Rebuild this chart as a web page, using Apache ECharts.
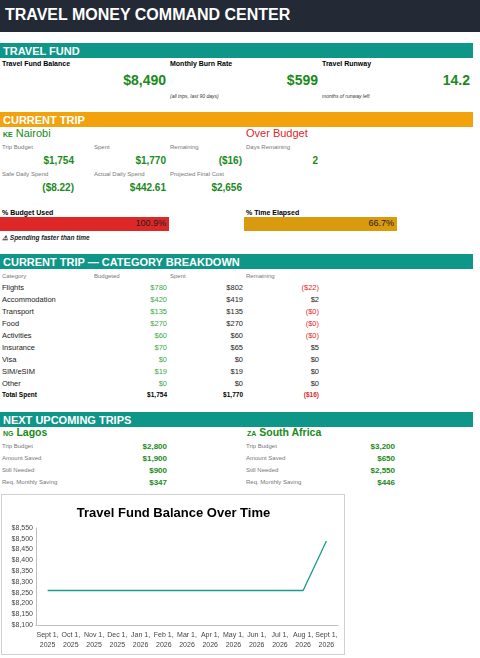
<!DOCTYPE html>
<html><head><meta charset="utf-8">
<script src="https://cdn.jsdelivr.net/npm/echarts@6/dist/echarts.min.js"></script>
<style>
body{margin:0;width:480px;height:658px;background:#fff;font-family:"Liberation Sans",Arial,sans-serif;position:relative;overflow:hidden}
.a{position:absolute;white-space:nowrap}
.bar{position:absolute;left:0;width:473px;height:15px;color:#fff;font-weight:bold;font-size:11px;line-height:16px;padding-left:3px;box-sizing:border-box}
.t{background:#0e9688}.lbl{font-size:6px;color:#777}.blbl{font-size:7px;font-weight:bold;color:#000}
.g{color:#1a8a1a;font-weight:bold}.r{text-align:right}
.cell{font-size:7.5px;color:#222}
</style></head><body>
<div class="a" style="left:0;top:0;width:480px;height:32px;background:#232a35"></div>
<div class="a" style="left:5px;top:6px;color:#fff;font-weight:bold;font-size:16px">TRAVEL MONEY COMMAND CENTER</div>

<div class="bar t" style="top:43px">TRAVEL FUND</div>
<div class="a blbl" style="left:2px;top:60px">Travel Fund Balance</div>
<div class="a blbl" style="left:170px;top:60px">Monthly Burn Rate</div>
<div class="a blbl" style="left:322px;top:60px">Travel Runway</div>
<div class="a g r" style="left:60px;width:106px;top:72px;font-size:14px">$8,490</div>
<div class="a g r" style="left:212px;width:106px;top:72px;font-size:14px">$599</div>
<div class="a g r" style="left:364px;width:106px;top:72px;font-size:14px">14.2</div>
<div class="a" style="left:170px;top:93px;font-size:5px;font-style:italic;color:#333">(all trips, last 90 days)</div>
<div class="a" style="left:322px;top:93px;font-size:5px;font-style:italic;color:#333">months of runway left</div>

<div class="bar" style="top:112px;background:#f2a20c">CURRENT TRIP</div>
<div class="a" style="left:3px;top:127px;font-size:11px;color:#1a8a1a"><b style="font-size:7px">KE</b> Nairobi</div>
<div class="a" style="left:246px;top:127px;font-size:11px;color:#e0262b">Over Budget</div>
<div id="trip"></div>

<div class="a blbl" style="left:2px;top:209px">% Budget Used</div>
<div class="a blbl" style="left:246px;top:209px">% Time Elapsed</div>
<div class="a" style="left:0;top:217px;width:169px;height:14px;background:#de2727"></div>
<div class="a r" style="left:0;top:218px;width:166px;font-size:9px;color:#222">100.9%</div>
<div class="a" style="left:244px;top:217px;width:153px;height:14px;background:#d99a0e"></div>
<div class="a r" style="left:244px;top:218px;width:150px;font-size:9px;color:#222">66.7%</div>
<div class="a" style="left:2px;top:234px;font-size:6.5px;font-style:italic;font-weight:bold;color:#222">⚠ Spending faster than time</div>

<div class="bar t" style="top:254px">CURRENT TRIP — CATEGORY BREAKDOWN</div>
<div id="tbl"></div>

<div class="bar t" style="top:412px">NEXT UPCOMING TRIPS</div>
<div class="a" style="left:3px;top:426px;font-size:10.5px;color:#1a8a1a;font-weight:bold"><span style="font-size:7px">NG</span> Lagos</div>
<div class="a" style="left:247px;top:426px;font-size:10.5px;color:#1a8a1a;font-weight:bold"><span style="font-size:7px">ZA</span> South Africa</div>
<div id="next"></div>

<div class="a" style="left:1px;top:494px;width:344px;height:161px;border:1px solid #d0d0d0;box-sizing:border-box"></div>
<div id="chart" class="a" style="left:1px;top:494px;width:345px;height:162px"></div>
<script>
const tripLabels=["Trip Budget","Spent","Remaining","Days Remaining","Safe Daily Spend","Actual Daily Spend","Projected Final Cost"];
const tripValues=["$1,754","$1,770","($16)","2","($8.22)","$442.61","$2,656"];
const categories=["Flights","Accommodation","Transport","Food","Activities","Insurance","Visa","SIM/eSIM","Other"];
const budgeted=["$780","$420","$135","$270","$60","$70","$0","$19","$0"];
const spent=["$802","$419","$135","$270","$60","$65","$0","$19","$0"];
const remaining=["($22)","$2","($0)","($0)","($0)","$5","$0","$0","$0"];
const totals=["Total Spent","$1,754","$1,770","($16)"];
const nextLabels=["Trip Budget","Amount Saved","Still Needed","Req. Monthly Saving"];
const lagosValues=["$2,800","$1,900","$900","$347"];
const saValues=["$3,200","$650","$2,550","$446"];
const months=["Sept 1,\n2025","Oct 1,\n2025","Nov 1,\n2025","Dec 1,\n2025","Jan 1,\n2026","Feb 1,\n2026","Mar 1,\n2026","Apr 1,\n2026","May 1,\n2026","Jun 1,\n2026","Jul 1,\n2026","Aug 1,\n2026","Sept 1,\n2026"];
const balance=[8260,8260,8260,8260,8260,8260,8260,8260,8260,8260,8260,8260,8490];

let h="";const colX=[2,94,170,246];
tripLabels.forEach((l,i)=>{const row=i<4?0:1,c=i<4?i:i-4;
 h+=`<div class="a lbl" style="left:${colX[c]}px;top:${144+row*27}px">${l}</div>`;
 h+=`<div class="a g r" style="left:${colX[c]}px;width:${(c==3?72:72)}px;top:${155+row*27}px;font-size:10px">${tripValues[i]}</div>`;});
document.getElementById("trip").innerHTML=h;

h="";["Category","Budgeted","Spent","Remaining"].forEach((l,i)=>h+=`<div class="a lbl" style="left:${[2,94,170,246][i]}px;top:273px">${l}</div>`);
categories.forEach((c,i)=>{const y=283+i*12;const neg=remaining[i].startsWith("(");
 h+=`<div class="a cell" style="left:2px;top:${y}px">${c}</div>`;
 h+=`<div class="a cell r" style="left:100px;width:67px;top:${y}px;color:#3aa84a">${budgeted[i]}</div>`;
 h+=`<div class="a cell r" style="left:176px;width:67px;top:${y}px">${spent[i]}</div>`;
 h+=`<div class="a cell r" style="left:252px;width:67px;top:${y}px;color:${neg?'#e0262b':'#222'}">${remaining[i]}</div>`;});
h+=`<div class="a cell" style="left:2px;top:391px;font-weight:bold;font-size:6.5px;color:#000">${totals[0]}</div>`;
[1,2,3].forEach(j=>h+=`<div class="a cell r" style="left:${100+(j-1)*76}px;width:67px;top:391px;font-weight:bold;font-size:6.5px;color:${j==3?'#e0262b':'#000'}">${totals[j]}</div>`);
document.getElementById("tbl").innerHTML=h;

h="";nextLabels.forEach((l,i)=>{const y=442+i*12;
 h+=`<div class="a lbl" style="left:2px;top:${y+1}px">${l}</div><div class="a g r" style="left:100px;width:67px;top:${y}px;font-size:8px">${lagosValues[i]}</div>`;
 h+=`<div class="a lbl" style="left:246px;top:${y+1}px">${l}</div><div class="a g r" style="left:328px;width:67px;top:${y}px;font-size:8px">${saValues[i]}</div>`;});
document.getElementById("next").innerHTML=h;

const ch=echarts.init(document.getElementById("chart"));
ch.setOption({animation:false,
 title:{text:"Travel Fund Balance Over Time",left:"center",top:8,textStyle:{fontSize:13,fontWeight:"bold",color:"#000",fontFamily:"Liberation Sans"}},
 grid:{left:35,right:8,top:34,bottom:31},
 xAxis:{type:"category",data:months,boundaryGap:true,axisTick:{show:false},axisLine:{lineStyle:{color:"#bfbfbf"}},
  axisLabel:{interval:0,fontSize:7,color:"#444",lineHeight:10,margin:5}},
 yAxis:{type:"value",min:8100,max:8550,interval:50,splitLine:{show:false},axisLine:{show:true,lineStyle:{color:"#bfbfbf"}},
  axisLabel:{fontSize:7,color:"#444",margin:3,formatter:v=>"$"+v.toLocaleString("en-US")}},
 series:[{type:"line",data:balance,symbol:"none",lineStyle:{color:"#1a9a8a",width:1.3}}]});
</script></body></html>
